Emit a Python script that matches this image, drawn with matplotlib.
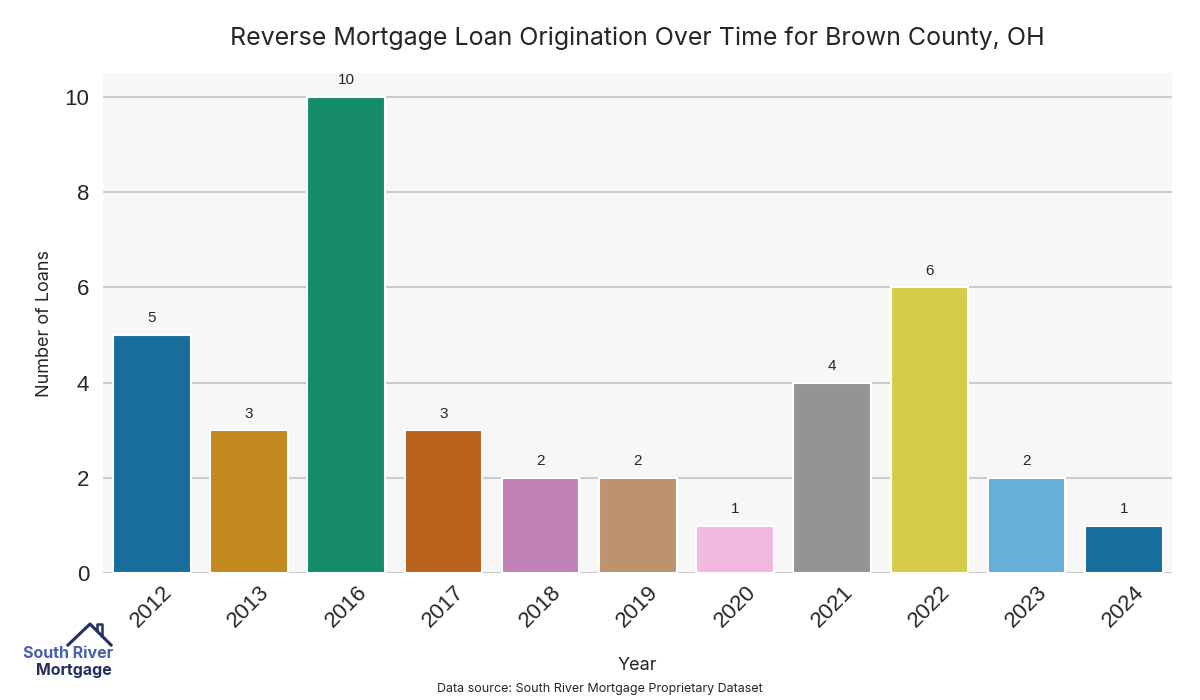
import colorsys
import matplotlib
matplotlib.use("Agg")
import matplotlib.pyplot as plt
import matplotlib.colors as mcolors
from matplotlib.lines import Line2D

# data
years = ["2012", "2013", "2016", "2017", "2018", "2019", "2020", "2021", "2022", "2023", "2024"]
loans = [5, 3, 10, 3, 2, 2, 1, 4, 6, 2, 1]

title = "Reverse Mortgage Loan Origination Over Time for Brown County, OH"
source = "Data source: South River Mortgage Proprietary Dataset"

# seaborn "colorblind" palette, desaturated like seaborn's barplot does (0.75)
base = ["#0173b2", "#de8f05", "#029e73", "#d55e00", "#cc78bc",
        "#ca9161", "#fbafe4", "#949494", "#ece133", "#56b4e9"]


def desat(c, prop=0.75):
    h, l, s = colorsys.rgb_to_hls(*mcolors.to_rgb(c))
    return colorsys.hls_to_rgb(h, l, s * prop)


colors = [desat(base[i % len(base)]) for i in range(len(years))]

font_main = ["Inter", "DejaVu Sans"]
font_ticks = ["Liberation Sans", "DejaVu Sans"]

fig = plt.figure(figsize=(12, 7), dpi=100)
ax = fig.add_axes([0.086, 0.181, 0.891, 0.715])
ax.set_facecolor("#f7f7f7")

x = range(len(years))
bars = ax.bar(x, loans, width=0.8, color=colors, edgecolor="white", linewidth=1.5, zorder=3)
ax.bar_label(bars, labels=[str(v) for v in loans], padding=7, fontsize=11,
             family=font_ticks, color="#262626")

ax.set_xlim(-0.5, len(years) - 0.5)
ax.set_ylim(0, 10.5)
ax.set_yticks([0, 2, 4, 6, 8, 10])
ax.set_xticks(list(x))
ax.set_xticklabels(years, rotation=45, fontsize=16, family=font_ticks, color="#262626")
ax.tick_params(axis="y", labelsize=16, length=0, pad=10, labelcolor="#262626")
ax.tick_params(axis="x", length=0, pad=6)
for lab in ax.get_yticklabels():
    lab.set_family(font_ticks)

ax.grid(axis="y", color="#cccccc", linewidth=1.5, zorder=0)
ax.grid(axis="x", visible=False)
for sp in ax.spines.values():
    sp.set_visible(False)

ax.set_xlabel("Year", fontsize=13, family=font_main, color="#262626", labelpad=18)
ax.set_ylabel("Number of Loans", fontsize=13, family=font_main, color="#262626", labelpad=8)
ax.set_title(title, fontsize=18, family=font_main, color="#262626", pad=20)

fig.text(0.5, 0.016, source, ha="center", va="center", fontsize=9,
         family=font_main, color="#262626")

# logo bottom-left
navy = "#22305f"
fig.text(0.019, 1 - 654 / 700, "South River", fontsize=11.5, fontweight="bold",
         family=font_main, color="#4a5fae", ha="left", va="center")
fig.text(0.030, 1 - 671 / 700, "Mortgage", fontsize=11.5, fontweight="bold",
         family=font_main, color=navy, ha="left", va="center")
roof_x = [68 / 1200, 90 / 1200, 111 / 1200]
roof_y = [1 - 645 / 700, 1 - 624 / 700, 1 - 645 / 700]
fig.add_artist(Line2D(roof_x, roof_y, color=navy, linewidth=2.2))
fig.add_artist(Line2D([97 / 1200, 97 / 1200, 102 / 1200, 102 / 1200],
                      [1 - 630 / 700, 1 - 624 / 700, 1 - 624 / 700, 1 - 636 / 700],
                      color=navy, linewidth=1.8))

fig.savefig("out.png", dpi=100)
